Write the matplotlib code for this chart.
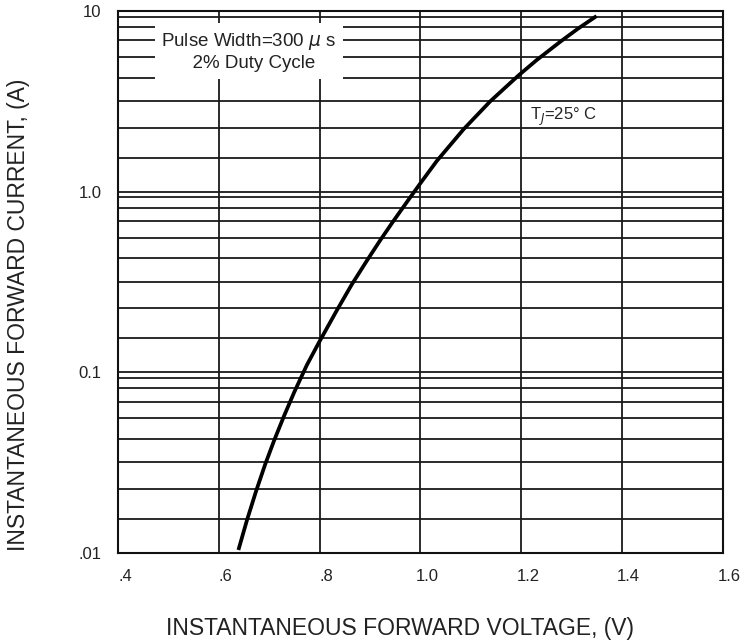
import matplotlib
matplotlib.use("Agg")
import matplotlib.pyplot as plt
from matplotlib.transforms import ScaledTranslation

# ---- data ----
voltage_v = [0.639, 0.656, 0.674, 0.692, 0.710, 0.730, 0.750, 0.775, 0.800, 0.834,
             0.864, 0.894, 0.920, 0.945, 0.975, 1.000, 1.033, 1.086, 1.139, 1.195,
             1.231, 1.278, 1.314, 1.350]
current_a = [0.01035, 0.01514, 0.02188, 0.03076, 0.04188, 0.05754, 0.07762, 0.1096, 0.1479, 0.2188,
             0.3055, 0.4140, 0.5346, 0.6761, 0.8872, 1.109, 1.479, 2.213, 3.162, 4.395,
             5.346, 6.761, 8.017, 9.376]

x_ticks = [0.4, 0.6, 0.8, 1.0, 1.2, 1.4, 1.6]
x_tick_labels = [".4", ".6", ".8", "1.0", "1.2", "1.4", "1.6"]
y_ticks = [0.01, 0.1, 1.0, 10]
y_tick_labels = [".01", "0.1", "1.0", "10"]
# hand-drawn grid: line values within each decade, as fraction of decade top
grid_multipliers = [0.929, 0.815, 0.687, 0.555, 0.428, 0.317, 0.226, 0.154]
decade_tops = [10, 1.0, 0.1]

note_text = "Pulse Width=300 $\\mu$ s\n  2% Duty Cycle"
temp_text = "T$_J$=25° C"
x_label = "INSTANTANEOUS FORWARD VOLTAGE, (V)"
y_label = "INSTANTANEOUS FORWARD CURRENT, (A)"

plt.rcParams['font.family'] = ["Liberation Sans", "DejaVu Sans"]

fig = plt.figure(figsize=(7.46, 6.44), dpi=100)
ax = fig.add_axes([118/746, 1-552.7/644, (722.5-118)/746, (552.7-11)/644])
ax.set_yscale("log")
ax.set_xlim(0.4, 1.6)
ax.set_ylim(0.01, 10)

grid_kw = dict(color="#1a1a1a", lw=1.3, zorder=1)
for top in decade_tops:
    for m in grid_multipliers:
        ax.axhline(top * m, **grid_kw)
for v in y_ticks:
    ax.axhline(v, **grid_kw)
for v in x_ticks[1:-1]:
    ax.axvline(v, **grid_kw)

ax.plot(voltage_v, current_a, color="black", lw=2.7, solid_capstyle="butt",
        solid_joinstyle="round", zorder=3)

ax.set_xticks(x_ticks)
ax.set_xticklabels(x_tick_labels)
ax.set_yticks(y_ticks)
ax.set_yticklabels(y_tick_labels)
ax.minorticks_off()
ax.tick_params(axis="both", length=0, labelsize=12, colors="#222222")
ax.tick_params(axis="x", pad=12)
ax.tick_params(axis="y", pad=12)
offset = ScaledTranslation(7/100, 0, fig.dpi_scale_trans)
for lab in ax.get_xticklabels():
    lab.set_transform(lab.get_transform() + offset)

for s in ax.spines.values():
    s.set_linewidth(1.5)
    s.set_color("#111111")

ax.text(0.660, 5.95, note_text, fontsize=13.5, ha="center",
        va="center", color="#222222", linespacing=1.2, zorder=5,
        bbox=dict(boxstyle="square,pad=0.35", facecolor="white", edgecolor="none"))
ax.text(1.218, 2.59, temp_text, fontsize=12, ha="left", va="center", color="#222222", zorder=5)

fig.text(400/746, 1-628/644, x_label, fontsize=16.5, ha="center", va="center",
         color="#222222")
fig.text(19/746, 1-315/644, y_label, fontsize=16.5, ha="center", va="center",
         rotation=90, color="#222222")

fig.savefig("out.png", dpi=100, facecolor="white")
